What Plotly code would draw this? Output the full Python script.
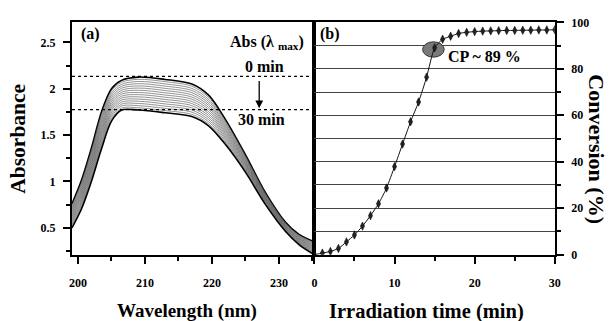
import plotly.graph_objects as go

# ---------------- data: panel (a) UV spectra ----------------
wavelength = [199.1, 200.5, 202, 203.5, 205, 206.5, 209, 213, 217, 219.5, 222, 225, 228, 231, 233, 235.3]

abs_00min = [0.760, 1.010, 1.360, 1.750, 2.000, 2.090, 2.125, 2.100, 2.050, 1.930, 1.670, 1.290, 0.880, 0.560, 0.430, 0.350]
abs_02min = [0.743, 0.989, 1.336, 1.723, 1.977, 2.069, 2.101, 2.076, 2.027, 1.908, 1.652, 1.277, 0.871, 0.553, 0.423, 0.341]
abs_04min = [0.725, 0.969, 1.312, 1.697, 1.953, 2.047, 2.078, 2.052, 2.003, 1.886, 1.634, 1.265, 0.863, 0.547, 0.415, 0.331]
abs_06min = [0.708, 0.948, 1.288, 1.670, 1.930, 2.026, 2.054, 2.028, 1.980, 1.864, 1.616, 1.252, 0.854, 0.540, 0.408, 0.322]
abs_08min = [0.691, 0.927, 1.264, 1.643, 1.907, 2.005, 2.030, 2.004, 1.957, 1.842, 1.598, 1.239, 0.845, 0.533, 0.401, 0.313]
abs_10min = [0.673, 0.907, 1.240, 1.617, 1.883, 1.983, 2.007, 1.980, 1.933, 1.820, 1.580, 1.227, 0.837, 0.527, 0.393, 0.303]
abs_12min = [0.656, 0.886, 1.216, 1.590, 1.860, 1.962, 1.983, 1.956, 1.910, 1.798, 1.562, 1.214, 0.828, 0.520, 0.386, 0.294]
abs_14min = [0.639, 0.865, 1.192, 1.563, 1.837, 1.941, 1.959, 1.932, 1.887, 1.776, 1.544, 1.201, 0.819, 0.513, 0.379, 0.285]
abs_16min = [0.621, 0.845, 1.168, 1.537, 1.813, 1.919, 1.936, 1.908, 1.863, 1.754, 1.526, 1.189, 0.811, 0.507, 0.371, 0.275]
abs_18min = [0.604, 0.824, 1.144, 1.510, 1.790, 1.898, 1.912, 1.884, 1.840, 1.732, 1.508, 1.176, 0.802, 0.500, 0.364, 0.266]
abs_20min = [0.587, 0.803, 1.120, 1.483, 1.767, 1.877, 1.888, 1.860, 1.817, 1.710, 1.490, 1.163, 0.793, 0.493, 0.357, 0.257]
abs_22min = [0.569, 0.783, 1.096, 1.457, 1.743, 1.855, 1.865, 1.836, 1.793, 1.688, 1.472, 1.151, 0.785, 0.487, 0.349, 0.247]
abs_24min = [0.552, 0.762, 1.072, 1.430, 1.720, 1.834, 1.841, 1.812, 1.770, 1.666, 1.454, 1.138, 0.776, 0.480, 0.342, 0.238]
abs_26min = [0.535, 0.741, 1.048, 1.403, 1.697, 1.813, 1.817, 1.788, 1.747, 1.644, 1.436, 1.125, 0.767, 0.473, 0.335, 0.229]
abs_28min = [0.517, 0.721, 1.024, 1.377, 1.673, 1.791, 1.794, 1.764, 1.723, 1.622, 1.418, 1.113, 0.759, 0.467, 0.327, 0.219]
abs_30min = [0.500, 0.700, 1.000, 1.350, 1.650, 1.770, 1.770, 1.740, 1.700, 1.600, 1.400, 1.100, 0.750, 0.460, 0.320, 0.210]

spectra = [abs_00min, abs_02min, abs_04min, abs_06min, abs_08min, abs_10min, abs_12min, abs_14min,
           abs_16min, abs_18min, abs_20min, abs_22min, abs_24min, abs_26min, abs_28min, abs_30min]
spectra_names = ["0 min", "2 min", "4 min", "6 min", "8 min", "10 min", "12 min", "14 min",
                 "16 min", "18 min", "20 min", "22 min", "24 min", "26 min", "28 min", "30 min"]

abs_max_0min = 2.132
abs_max_30min = 1.775

# ---------------- data: panel (b) conversion ----------------
time_min = [0, 1, 2, 3, 4, 5, 6, 7, 8, 9, 10, 11, 12, 13, 14, 15,
            16, 17, 18, 19, 20, 21, 22, 23, 24, 25, 26, 27, 28, 29, 30]
conversion = [0.0, 0.7, 1.4, 2.7, 5.5, 8.5, 12.3, 16.8, 21.9, 28.7, 37.9, 47.6, 57.2, 65.7, 76.4, 89.0,
              92.7, 94.0, 95.2, 95.7, 96.0, 96.2, 96.3, 96.4, 96.5, 96.5, 96.6, 96.6, 96.7, 96.7, 96.8]

W, H = 616, 321
FONT = "Liberation Serif, Times New Roman, serif"

fig = go.Figure()

n = len(spectra)
for i, (ys, nm) in enumerate(zip(spectra, spectra_names)):
    edge = i == 0 or i == n - 1
    fig.add_trace(go.Scatter(
        x=wavelength, y=ys, mode="lines", name=nm,
        line=dict(color="#000000" if edge else "#4a4a4a", width=1.6 if edge else 0.6,
                  shape="spline", smoothing=0.9),
        xaxis="x", yaxis="y", showlegend=False, hoverinfo="skip"))

fig.add_trace(go.Scatter(
    x=time_min, y=conversion, mode="lines+markers",
    line=dict(color="#111111", width=1, shape="spline", smoothing=0.6),
    marker=dict(symbol="diamond-tall", size=6, color="#222222",
                line=dict(color="#000000", width=0.5)),
    xaxis="x2", yaxis="y2", showlegend=False))

px = lambda v: v / W
py = lambda v: 1 - v / H

axis_common = dict(showline=True, linecolor="black", linewidth=2, mirror=True,
                   ticks="outside", tickwidth=2, ticklen=7, tickcolor="black",
                   zeroline=False,
                   tickfont=dict(family=FONT, size=12, color="black", weight="bold"))
minor_common = dict(ticks="outside", ticklen=4, tickwidth=2, tickcolor="black")

fig.update_layout(
    width=W, height=H,
    margin=dict(l=0, r=0, t=0, b=0),
    paper_bgcolor="white", plot_bgcolor="white",
    font=dict(family=FONT, color="black", weight="bold"),
    xaxis=dict(domain=[px(70), px(316)], range=[199.1, 235.3], tick0=200, dtick=10,
               minor=dict(tick0=205, dtick=10, **minor_common), showgrid=False,
               ticklabelstandoff=9, anchor="y", **axis_common),
    yaxis=dict(domain=[py(259), py(16)], range=[0.21, 2.716], tick0=0.5, dtick=0.5,
               minor=dict(tick0=0.25, dtick=0.5, **minor_common), showgrid=False,
               ticklabelstandoff=5, anchor="x", **axis_common),
    xaxis2=dict(domain=[px(316), px(560)], range=[0, 30], tick0=0, dtick=10,
                minor=dict(tick0=5, dtick=10, **minor_common), showgrid=False,
                ticklabelstandoff=9, anchor="y2", **axis_common),
    yaxis2=dict(domain=[py(259), py(16)], range=[0, 100], tick0=0, dtick=20, side="right",
                minor=dict(tick0=10, dtick=20, showgrid=True, gridcolor="#444444", gridwidth=1,
                           **minor_common),
                showgrid=True, gridcolor="#444444", gridwidth=1,
                ticklabelstandoff=5, anchor="x2", **axis_common),
)

# dotted reference lines in (a)
for yv in (abs_max_0min, abs_max_30min):
    fig.add_shape(type="line", xref="x domain", yref="y", x0=0, x1=1, y0=yv, y1=yv,
                  line=dict(color="black", width=1.2, dash="dot"))

# CP ellipse in (b)
fig.add_shape(type="circle", xref="x2", yref="y2", x0=13.5, x1=16.2, y0=85.0, y1=91.6,
              fillcolor="#7a7a7a", line=dict(color="#333333", width=1), layer="between")

def ann(text, x, y, size, xref="paper", yref="paper", xanchor="center", yanchor="middle", angle=0):
    fig.add_annotation(text=text, x=x, y=y, xref=xref, yref=yref, showarrow=False,
                       xanchor=xanchor, yanchor=yanchor, textangle=angle,
                       font=dict(family=FONT, size=size, color="black", weight="bold"))

ann("(a)", px(77), py(28), 16, xanchor="left")
ann("(b)", px(320), py(28), 16, xanchor="left")
ann("Abs (λ <sub>max</sub>)", 234.0, 2.5, 16, xref="x", yref="y", xanchor="right")
ann("0 min", 227.8, 2.24, 16, xref="x", yref="y")
ann("30 min", 227.35, 1.665, 16, xref="x", yref="y")
ann("CP ~ 89 %", 16.4, 85.4, 16, xref="x2", yref="y2", xanchor="left")
ann("Wavelength (nm)", px(187), py(318), 19)
ann("Irradiation time (min)", px(430), py(318), 20.5)
ann("Absorbance", px(15), py(138), 21.5, angle=-90)
ann("Conversion (%)", px(602), py(149), 22, angle=90)

# arrow 0 min -> 30 min
fig.add_annotation(x=227.06, y=1.79, ax=227.06, ay=2.10, xref="x", yref="y", axref="x", ayref="y",
                   text="", showarrow=True, arrowhead=2, arrowsize=1.2, arrowwidth=1.3, arrowcolor="black")

fig.write_html("out.html")
